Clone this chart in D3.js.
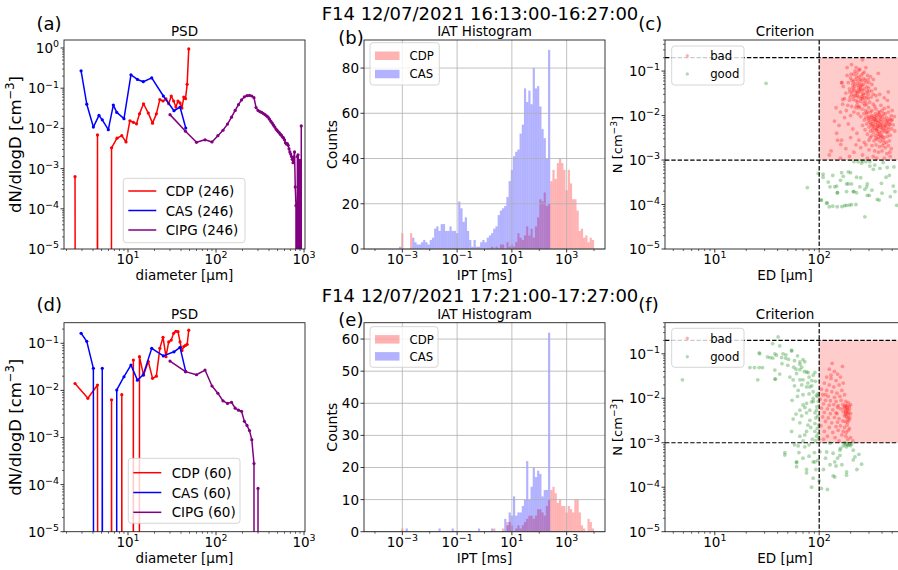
<!DOCTYPE html>
<html><head><meta charset="utf-8">
<script src="https://cdn.jsdelivr.net/npm/d3@7"></script>
<style>body{margin:0;background:#fff}svg{display:block}text{font-family:"DejaVu Sans",sans-serif;fill:#000}</style>
</head><body><svg id="fig" width="898" height="570"></svg>
<script>
// ================= DATA =================
const suptitles = ["F14 12/07/2021 16:13:00-16:27:00", "F14 12/07/2021 17:21:00-17:27:00"];
const panelLetters = [["(a)","(b)","(c)"],["(d)","(e)","(f)"]];

// PSD
const cdpDiam = [2.5,3.5,4.5,5.5,6.5,7.5,8.5,9.5,10.5,11.5,12.5,13.5,15,17,19,21,23,25,27,29,31,33,35,37,39,41,43,45,47,49];
const cdpPsdA = [0.00063,0,0.0069,0,0.0033,0.0057,0.0066,0.0046,0.0155,0.0142,0.013,0.023,0.041,0.024,0.0135,0.023,0.052,0.048,0.054,0.041,0.064,0.048,0.034,0.048,0.043,0.032,0.06,0.055,0.125,0.95];
const cdpPsdD = [0.014,0.0068,0.013,0,0.0063,0,0.0081,0,0,0.044,0,0.052,0.021,0.041,0.018,0.02,0.078,0.134,0.052,0.107,0.117,0.163,0.18,0.176,0.107,0.07,0.085,0.09,0.095,0.19];
const casDiam = [2.93,3.4,4.04,4.68,5.1,5.97,6.81,7.45,9.0,10.8,12.8,14.9,18.6,25.2,33.3,39,45.3];
const casPsdA = [0.27,0.04,0.0108,0.021,0.0163,0.0093,0.038,0.025,0.0175,0.215,0.165,0.145,0.18,0.064,0.0275,0.034,0.0102];
const casPsdD = [0.163,0.11,0.0294,0,0.0294,0,0,0.0102,0.0195,0.0345,0.0165,0.0215,0.078,0.054,0.066,0.082,0.025];
const cipDiam = [30,45,60,75,90,105,120,135,150,165,180,195,210,225,240,255,270,285,300,315,330,345,360,375,390,405,420,435,450,465,480,495,510,525,540,555,570,585,600,615,630,645,660,675,690,705,720,735,750,765,780,795,810,825,840,855,870,885,900,915,930,945];
const cipPsdA = [0.022,0.0085,0.0045,0.0052,0.0046,
  0.0066,0.009,0.0128,0.019,0.028,0.039,0.051,0.061,0.065,
  0.066,0.064,0.058,0.033,0.028,0.026,0.025,0.0235,0.022,
  0.0205,0.019,0.017,0.015,0.0135,0.012,0.0108,0.0096,0.0089,
  0.0082,0.0077,0.0071,0.0067,0.0061,0.0058,0.0052,0.0044,0.0041,
  0.0042,0.0038,0.0031,0.0026,0.0023,0.002,0.0017,0.0014,0.0019,
  0.0026,0.00035,0.00012,0,0.002,0.0022,0.0013,0,0.0016,
  0,0.0115,0];
const cipPsdD = [0.042,0.025,0.0215,0.027,0.0124,
  0.0087,0.006,0.0053,0.0056,0.0042,0.0038,0.0036,0.0022,0.0018,
  0.0014,0.0009,0.00028,0,0.000083,0,0,0,0,
  0,0,0,0,0,0,0,0,0, 0,0,0,0,0,0,0,0,0, 0,0,0,0,0,0,0,0,0, 0,0,0,0,0,0,0,0,0, 0,0,0];
const psdLegendA = ["CDP (246)","CAS (246)","CIPG (246)"];
const psdLegendD = ["CDP (60)","CAS (60)","CIPG (60)"];

// IAT histograms: 100 log bins from 1e-4 to 1e4 ms
const iatBinLog = [-4, 4, 100];
const cdpIatB = [0,0,0,0,0,0,0,0,0,0, 0,0,7,0,0,0,7,0,0,0, 0,0,0,0,0,0,0,0,0,0, 0,0,0,0,0,0,0,0,0,0, 0,0,0,0,0,0,0,0,0,0,
  0,0,0,1,0,1,0,2,2,0, 3,1,2,1,3,7,5,4,6,10, 6,9,5,10,14,22,21,25,19,20, 30,35,31,38,40,38,35,26,35,29, 22,22,17,8,9,5,6,3,5,4];
const casIatB = [0,0,0,0,0,0,0,0,0,0, 0,1,0,0,0,0,0,5,3,2, 2,3,4,3,2,4,5,9,10,8, 11,11,8,8,10,8,8,7,21,18, 12,14,8,4,1,4,1,1,3,4,
  3,5,6,7,9,10,15,17,18,19, 23,30,35,41,43,44,51,55,71,65, 70,64,80,71,72,63,53,49,40,88, 0,0,0,0,0,0,0,0,0,0, 0,0,0,0,0,0,0,0,0,0];
const cdpIatE = [0,0,0,0,0,0,0,0,0,0, 0,0,1,0,0,0,0,0,0,0, 0,0,0,0,0,0,0,0,0,0, 0,0,0,0,0,0,0,0,0,0, 0,0,0,0,0,0,0,0,0,0,
  0,0,0,0,1,0,0,0,1,0, 3,3,2,0,1,2,1,2,3,4, 5,5,4,5,7,7,6,5,8,10, 13,14,12,9,10,8,8,6,8,7, 6,10,10,6,2,1,0,4,3,1];
const casIatE = [0,0,0,0,0,0,0,0,0,0, 0,0,0,0,1,0,0,0,0,0, 0,0,0,0,0,0,0,0,0,1, 0,0,0,0,0,1,0,0,0,0, 0,0,0,0,0,0,0,1,0,0,
  0,0,0,1,0,0,0,0,0,4, 2,6,5,11,5,6,6,8,10,22, 10,14,20,17,19,18,11,13,13,62, 0,0,0,0,0,0,0,0,0,0, 0,0,0,0,0,0,0,0,0,0];
const iatYTicksB = [0,20,40,60,80];
const iatYTicksE = [0,10,20,30,40,50,60];

// Criterion scatter: [ED (um), N (cm^-3)]
const critThreshN = [0.001, 0.2];
const critThreshED = 100;
const critBadC = [
 [185,0.12],[204,0.14],[245,0.11],[260,0.18],[230,0.09],[215,0.085],[270,0.095],[290,0.08],[310,0.075],[368,0.089],[200,0.07],[222,0.065],[240,0.072],[255,0.06],[275,0.062],[300,0.055],[190,0.055],[210,0.05],[235,0.048],[250,0.045],[265,0.05],[285,0.044],[320,0.05],[345,0.04],[170,0.045],[195,0.04],[215,0.038],[228,0.036],[245,0.034],[260,0.037],[280,0.032],[300,0.035],[330,0.03],[180,0.032],[205,0.03],[222,0.028],[238,0.026],[255,0.027],[272,0.025],[295,0.024],[315,0.026],[350,0.028],[380,0.03],[175,0.024],[195,0.022],[212,0.023],[232,0.02],[248,0.021],[265,0.019],[285,0.018],[305,0.02],[330,0.018],[360,0.022],[420,0.025],[168,0.018],[188,0.017],[205,0.016],[225,0.015],[242,0.016],[258,0.014],[278,0.013],[298,0.015],[340,0.016],[390,0.017],[450,0.022],[459,0.034],[182,0.013],[215,0.012],[236,0.011],[268,0.011],[290,0.012],[320,0.013],[160,0.012],[200,0.01],[250,0.0095],[165,0.055],[220,0.1],[280,0.12],[330,0.065],[185,0.08],[250,0.04],[235,0.06],[260,0.024],[295,0.03],[210,0.042],[270,0.04],[240,0.015],[225,0.032],
 [218,0.045],[242,0.052],[232,0.028],[262,0.031],[248,0.065],[226,0.022],[276,0.021],[208,0.035],[198,0.026],[286,0.026],
 [212,0.058],[228,0.075],[252,0.08],[268,0.068],[238,0.042],[256,0.048],[222,0.052],[244,0.038],[264,0.029],[234,0.033],[252,0.024],[288,0.036],[214,0.027],[230,0.017],[274,0.017],[196,0.034],[206,0.062],[282,0.056],[298,0.042],[318,0.036],[262,0.088],[240,0.105],[202,0.085],[226,0.12],[294,0.065],
 [280,0.009],[300,0.0095],[320,0.01],[345,0.011],[370,0.012],[400,0.013],[430,0.011],[460,0.012],[490,0.01],[270,0.008],[295,0.0078],[315,0.0082],[335,0.0085],[355,0.009],[380,0.0088],[405,0.0095],[440,0.009],[475,0.0085],[500,0.008],[285,0.0065],[305,0.007],[325,0.0066],[348,0.0072],[365,0.0068],[390,0.0072],[415,0.007],[445,0.0068],[480,0.0065],[260,0.006],[300,0.0055],[320,0.0058],[340,0.0052],[362,0.0058],[385,0.0055],[410,0.0058],[435,0.0052],[465,0.0056],[495,0.005],[275,0.0048],[310,0.0045],[330,0.0042],[355,0.0046],[375,0.0044],[398,0.0042],[425,0.0046],[455,0.0042],[290,0.0038],[318,0.0035],[345,0.0036],[368,0.0033],[392,0.0035],[420,0.0032],[450,0.0034],[480,0.0036],[300,0.0028],[335,0.0027],[360,0.0029],[385,0.0026],[410,0.0028],[440,0.0025],[470,0.0027],[280,0.0022],[320,0.0021],[350,0.0022],[378,0.002],[405,0.0021],[430,0.0019],[460,0.0021],[490,0.0018],[300,0.0017],[340,0.0016],[370,0.0015],[400,0.0016],[445,0.0014],[475,0.0015],[380,0.012],[420,0.0145],[350,0.014],[310,0.012],[460,0.0155],[500,0.013],[395,0.0062],[325,0.0049],[365,0.0039],[435,0.0062],[455,0.0078],[345,0.0062],[285,0.011],[375,0.0105],
 [352,0.0078],[372,0.0075],[338,0.0095],[392,0.0082],[362,0.0052],[408,0.0048],[328,0.0075],[382,0.0063],[422,0.0082],[312,0.0064],
 [358,0.0102],[388,0.0098],[412,0.011],[342,0.0082],[368,0.0058],[398,0.0052],[428,0.0058],[352,0.0048],[378,0.0038],[402,0.0034],[332,0.0058],[318,0.0092],[298,0.0088],[448,0.0075],[468,0.0065],[488,0.0078],[462,0.0048],[438,0.0042],[388,0.0031],[348,0.0031],[308,0.0032],[418,0.0024],[512,0.0062],[525,0.0095],[530,0.0045],
 [125,0.0013],[147,0.004],[150,0.0028],[164,0.0028],[161,0.00225],[168,0.023],[164,0.055],[140,0.0075],[155,0.006],[175,0.009],[190,0.0065],[210,0.005],[230,0.004],[200,0.0032],[240,0.0028],[180,0.0018],[215,0.0015],[260,0.0013],[290,0.0011],[330,0.0012],[160,0.0011],[250,0.0019],[130,0.0016],[195,0.0012],[355,0.0011],[420,0.0011],[480,0.0012],[270,0.0025],[225,0.0022],[145,0.015]];
const critGoodC = [
 [31,0.053],[77,0.00024],[98,0.0005],[109,0.00048],[105,0.000126],[118,0.000106],[109,0.00041],[122,0.00032],[127,0.00025],[141,0.00025],[164,0.00052],[170,0.00043],[190,0.00054],[200,0.00052],[215,0.00092],[236,0.00092],[228,0.00041],[204,0.00029],[190,0.00029],[149,0.000184],[183,0.000195],[215,0.000195],[149,0.000089],[165,0.00009],[183,0.000096],[204,0.000099],[225,0.0001],[245,0.00025],[274,0.00022],[289,0.00016],[274,0.000053],[306,0.00073],[341,0.00077],[306,0.00092],[382,0.00065],[448,0.00068],[410,0.00088],[360,0.00013],[437,0.00041],[512,0.00026],[553,0.000096],[289,0.00029],[147,0.00026],[150,0.000184],[183,0.00029],[212,0.000195],[228,0.000184],[285,0.00025],[302,0.00016],[376,0.000126],[532,0.000195],[104,0.000126],[119,0.00011],[125,0.000089],[135,0.000092],[175,0.000094],[195,0.000097],[260,0.00095],[280,0.00092],[255,0.00085],[330,0.00062],[395,0.0003],[470,0.00045],[520,0.0007],[160,0.00035],[135,0.00045],[250,0.0004],[320,0.00021],[400,0.00018],[480,0.00015]];
const critBadF = [
 [133,0.061],[167,0.052],[125,0.045],[140,0.04],[150,0.035],[118,0.03],[130,0.028],[145,0.025],[160,0.03],[112,0.022],[125,0.02],[138,0.018],[155,0.02],[170,0.022],[105,0.016],[118,0.015],[132,0.014],[148,0.013],[165,0.015],[108,0.012],[122,0.011],[140,0.0105],[158,0.011],[175,0.012],[102,0.0095],[115,0.009],[128,0.0088],[145,0.0085],[162,0.009],[180,0.0085],[190,0.008],[110,0.0075],[125,0.007],[138,0.0072],[152,0.0068],[168,0.0072],[178,0.007],[185,0.0068],[195,0.0066],[200,0.0072],[105,0.006],[120,0.0058],[135,0.0055],[160,0.0058],[172,0.006],[182,0.0058],[188,0.0055],[196,0.0057],[112,0.0048],[128,0.0045],[145,0.0047],[170,0.005],[180,0.0048],[186,0.0046],[192,0.0049],[200,0.0045],[108,0.0038],[122,0.0036],[140,0.0037],[155,0.0035],[175,0.004],[183,0.0038],[190,0.0041],[197,0.0036],[115,0.003],[132,0.0028],[150,0.0029],[168,0.0031],[178,0.003],[187,0.0029],[193,0.0032],[104,0.0024],[125,0.0022],[145,0.0023],[160,0.0024],[175,0.0022],[185,0.0025],[195,0.0021],[112,0.0018],[135,0.0017],[152,0.0019],[170,0.0018],[182,0.0017],[190,0.0019],[120,0.0014],[142,0.0013],[165,0.0015],[180,0.0014],[200,0.0013],[110,0.0012],[155,0.0011],[188,0.0012],[210,0.0011],[148,0.0045],[185,0.0062],[180,0.0052],[178,0.0043],[188,0.0035],[176,0.0065],[130,0.033],[115,0.012],[150,0.0062]];
const critGoodF = [
 [4.9,0.026],[40.4,0.24],[35.8,0.17],[41.9,0.15],[26.6,0.105],[27,0.1],[37.6,0.1],[39,0.093],[43.6,0.082],[47.6,0.08],[50.8,0.075],[54.4,0.12],[54.4,0.115],[70,0.074],[72.8,0.066],[65.3,0.058],[65.3,0.066],
 [21.7,0.049],[24,0.049],[26.6,0.049],[28.6,0.049],[37.6,0.043],[41.9,0.035],[52.4,0.03],[60.7,0.036],[25.8,0.026],[38.2,0.027],[37.6,0.027],[65.3,0.026],[78.4,0.038],[91,0.038],[75.7,0.039],[87.6,0.033],[56.3,0.026],[70,0.026],[65.3,0.044],
 [75.7,0.018],[62.9,0.015],[87.6,0.014],[94.3,0.0117],[97.8,0.0128],[81.4,0.018],[84.6,0.0083],[70,0.0071],[81.4,0.0054],[75.7,0.0047],[91,0.0047],[87.6,0.0099],[75.7,0.0077],[65.3,0.0054],[94.3,0.0054],[81.4,0.0032],[91,0.0027],[56.3,0.0034],[65.3,0.0028],[72.8,0.0015],[91,0.0018],[54.4,0.0018],[65.3,0.0014],[75.7,0.0018],[94.3,0.0014],
 [62.9,0.00085],[72.8,0.00081],[46.9,0.0006],[46.9,0.00053],[60.7,0.00037],[60.7,0.00036],[60.7,0.00029],[75.7,0.00025],[75.7,0.00021],[87.6,0.00016],[87.6,0.00037],[84.6,0.0001],[91,0.00037],
 [101.6,0.00062],[105,0.000094],[120,0.000089],[127,0.00032],[136,0.00058],[141,0.00037],[158,0.00068],[176,0.001],[212,0.00068],[220,0.00048],[183,0.000187],[141,0.00017],[212,0.00041],[255,0.00033],[136,0.00018],[145,0.0003],[158,0.00052],[183,0.00081],[190,0.00088],[195,0.00092],[200,0.00086],[186,0.00095],[178,0.00091],[118,0.00062],[127,0.00098],[183,0.00022],
 [96,0.011],[98,0.0085],[95,0.0065],[97,0.004],[93,0.0036],[99,0.0025],[96,0.0021],[98,0.0016],[92,0.0011],[99,0.0012],
 [32,0.085],[34,0.082],[36,0.08],[45,0.1],[48,0.095],[58,0.07],[62,0.09],[44,0.06],[50,0.055],[57,0.05],[60,0.045],[68,0.05],[72,0.04],[80,0.03],[85,0.025],[78,0.022],[68,0.02],[58,0.019],[85,0.019],[92,0.024],[55,0.009],[62,0.011],[70,0.012],[80,0.0125],[88,0.0085],[73,0.0062],[60,0.0044],[68,0.004],[78,0.0025],[83,0.0022],[86,0.0012],[70,0.0011],[80,0.0009],[58,0.0009],[64,0.0006],[70,0.00045],[80,0.0005],[90,0.0006],[97,0.0004],[93,0.00025],[100,0.00014],[110,0.00025],[115,0.00045],[150,0.00045],[165,0.00032],[230,0.00025],[240,0.00055],[205,0.00095],[170,0.00085],[160,0.00075]];

// ================= LAYOUT =================
const ROWS = [{top:40, bottom:249}, {top:322.7, bottom:531.7}];
const COL = {psd:[64,305], iat:[364,605], crit:[665,905]};
const AXC = '#222';
const TICKFS = 13.5;
const LABFS = 13.5;
const svg = d3.select('#fig');
const defs = svg.append('defs');

function richText(parent, x, y, parts, size, anchor, rotate) {
  const t = parent.append('text').attr('x', x).attr('y', y).attr('font-size', size).attr('text-anchor', anchor || 'start');
  if (rotate != null) t.attr('transform', `rotate(${rotate},${x},${y})`);
  let raised = false;
  parts.forEach(p => {
    const s = t.append('tspan');
    if (typeof p === 'string') { if (raised) { s.attr('dy', size * 0.42); raised = false; } s.text(p); }
    else { s.attr('dy', -size * 0.42).attr('font-size', size * 0.7).text(p.sup); raised = true; }
  });
  return t;
}
const expStr = e => e < 0 ? '\u2212' + (-e) : String(e);
function logMinor(scale) {
  const [a, b] = scale.domain(); const out = [];
  for (let e = Math.floor(Math.log10(a)); e <= Math.ceil(Math.log10(b)); e++)
    for (let k = 2; k <= 9; k++) { const v = k * Math.pow(10, e); if (v >= a && v <= b) out.push(v); }
  return out;
}
function frame(g, L, R, top, bottom) {
  g.append('rect').attr('x', L).attr('y', top).attr('width', R - L).attr('height', bottom - top)
    .attr('fill', 'none').attr('stroke', AXC).attr('stroke-width', 0.9);
}
function xTick(g, x, bottom, len) { g.append('line').attr('x1', x).attr('x2', x).attr('y1', bottom).attr('y2', bottom + len).attr('stroke', AXC).attr('stroke-width', len > 2.5 ? 0.9 : 0.7); }
function yTick(g, y, L, len) { g.append('line').attr('x1', L - len).attr('x2', L).attr('y1', y).attr('y2', y).attr('stroke', AXC).attr('stroke-width', len > 2.5 ? 0.9 : 0.7); }
function clip(id, L, R, top, bottom) {
  defs.append('clipPath').attr('id', id).append('rect').attr('x', L).attr('y', top).attr('width', R - L).attr('height', bottom - top);
  return `url(#${id})`;
}
function legendBox(g, x, y, w, h) {
  g.append('rect').attr('x', x).attr('y', y).attr('width', w).attr('height', h).attr('rx', 3)
    .attr('fill', '#fff').attr('fill-opacity', 0.8).attr('stroke', '#ccc').attr('stroke-width', 0.8);
}

// ================= PSD PANEL =================
function psdPanel(row, cdpY, casY, cipY, yTop, yExps, labels, leg) {
  const {top, bottom} = ROWS[row]; const [L, R] = COL.psd;
  const xs = d3.scaleLog().domain([Math.pow(10, 0.2727), Math.pow(10, 3.011)]).range([L, R]);
  const ys = d3.scaleLog().domain([1e-5, yTop]).range([bottom, top]);
  const g = svg.append('g');
  const plot = g.append('g').attr('clip-path', clip('cpsd' + row, L, R, top, bottom));
  const series = [[cdpDiam, cdpY, 'red'], [casDiam, casY, 'blue'], [cipDiam, cipY, 'purple']];
  const line = d3.line().x(d => xs(d.x)).y(d => d.y > 0 ? ys(d.y) : bottom + 8000);
  series.forEach(([xv, yv, col]) => {
    const pts = xv.map((x, i) => ({x, y: yv[i]}));
    plot.append('path').attr('d', line(pts)).attr('fill', 'none').attr('stroke', col).attr('stroke-width', 1.5).attr('stroke-linejoin', 'round');
    plot.selectAll(null).data(pts.filter(d => d.y > 0)).enter().append('circle')
      .attr('cx', d => xs(d.x)).attr('cy', d => ys(d.y)).attr('r', 1.6).attr('fill', col);
  });
  frame(g, L, R, top, bottom);
  [1, 2, 3].forEach(e => { const x = xs(Math.pow(10, e)); xTick(g, x, bottom, 3.5); richText(g, x, bottom + 15, ['10', {sup: expStr(e)}], TICKFS, 'middle'); });
  logMinor(xs).forEach(v => xTick(g, xs(v), bottom, 2));
  yExps.forEach(e => { const y = ys(Math.pow(10, e)); yTick(g, y, L, 3.5); richText(g, L - 5, y + 5, ['10', {sup: expStr(e)}], TICKFS, 'end'); });
  logMinor(ys).forEach(v => yTick(g, ys(v), L, 2));
  g.append('text').attr('x', (L + R) / 2).attr('y', top - 4).attr('text-anchor', 'middle').attr('font-size', 13.5).text('PSD');
  g.append('text').attr('x', (L + R) / 2).attr('y', bottom + 31).attr('text-anchor', 'middle').attr('font-size', LABFS).text('diameter [\u00b5m]');
  richText(g, 21, (top + bottom) / 2, ['dN/dlogD [cm', {sup: '\u22123'}, ']'], 16.5, 'middle', -90);
  // legend
  const lg = g.append('g');
  legendBox(lg, leg.x, leg.y, leg.w, leg.h);
  ['red', 'blue', 'purple'].forEach((c, i) => {
    const yy = leg.y + leg.first + i * leg.step;
    lg.append('line').attr('x1', leg.x + 5).attr('x2', leg.x + 33).attr('y1', yy).attr('y2', yy).attr('stroke', c).attr('stroke-width', 1.5);
    lg.append('text').attr('x', leg.x + leg.tx).attr('y', yy + 5).attr('font-size', 13.5).text(labels[i]);
  });
}

// ================= IAT PANEL =================
function iatPanel(row, cdpC, casC, yMax, yTicks, leg) {
  const {top, bottom} = ROWS[row]; const [L, R] = COL.iat;
  const xs = d3.scaleLog().domain([Math.pow(10, -4.4), Math.pow(10, 4.4)]).range([L, R]);
  const ys = d3.scaleLinear().domain([0, yMax]).range([bottom, top]);
  const g = svg.append('g');
  const [lo, hi, n] = iatBinLog; const w = (hi - lo) / n;
  const bins = d3.range(n).map(i => ({x0: Math.pow(10, lo + i * w), x1: Math.pow(10, lo + (i + 1) * w)}));
  [[cdpC, 'red'], [casC, 'blue']].forEach(([cnt, col]) => {
    g.append('g').selectAll('rect').data(bins.map((b, i) => ({...b, c: cnt[i]})).filter(d => d.c > 0)).enter().append('rect')
      .attr('x', d => xs(d.x0)).attr('width', d => xs(d.x1) - xs(d.x0))
      .attr('y', d => ys(d.c)).attr('height', d => ys(0) - ys(d.c))
      .attr('fill', col).attr('fill-opacity', 0.3);
  });
  const majors = [-3, -1, 1, 3];
  majors.forEach(e => { const x = xs(Math.pow(10, e)); g.append('line').attr('x1', x).attr('x2', x).attr('y1', top).attr('y2', bottom).attr('stroke', '#b0b0b0').attr('stroke-width', 0.8); });
  yTicks.forEach(t => { const y = ys(t); g.append('line').attr('x1', L).attr('x2', R).attr('y1', y).attr('y2', y).attr('stroke', '#b0b0b0').attr('stroke-width', 0.8); });
  frame(g, L, R, top, bottom);
  majors.forEach(e => { const x = xs(Math.pow(10, e)); xTick(g, x, bottom, 3.5); richText(g, x, bottom + 15, ['10', {sup: expStr(e)}], TICKFS, 'middle'); });
  [-4, -2, 0, 2, 4].forEach(e => xTick(g, xs(Math.pow(10, e)), bottom, 2));
  yTicks.forEach(t => { const y = ys(t); yTick(g, y, L, 3.5); g.append('text').attr('x', L - 5).attr('y', y + 5).attr('text-anchor', 'end').attr('font-size', TICKFS).text(t); });
  g.append('text').attr('x', (L + R) / 2).attr('y', top - 4).attr('text-anchor', 'middle').attr('font-size', 13.5).text('IAT Histogram');
  g.append('text').attr('x', (L + R) / 2).attr('y', bottom + 31).attr('text-anchor', 'middle').attr('font-size', LABFS).text('IPT [ms]');
  g.append('text').attr('x', 337).attr('y', (top + bottom) / 2).attr('text-anchor', 'middle').attr('font-size', 14)
    .attr('transform', `rotate(-90,337,${(top + bottom) / 2})`).text('Counts');
  const lg = g.append('g');
  legendBox(lg, leg.x, leg.y, leg.w, leg.h);
  [['red', 'CDP'], ['blue', 'CAS']].forEach(([c, t], i) => {
    const yy = leg.y + leg.first + i * leg.step;
    lg.append('rect').attr('x', leg.x + 5).attr('y', yy - 4.2).attr('width', 24.5).attr('height', 8.5).attr('fill', c).attr('fill-opacity', 0.3);
    lg.append('text').attr('x', leg.x + 39.5).attr('y', yy + 4.3).attr('font-size', 11.7).text(t);
  });
}

// ================= CRITERION PANEL =================
function critPanel(row, bad, good, leg) {
  const {top, bottom} = ROWS[row]; const [L, R] = COL.crit;
  const xs = d3.scaleLog().domain([Math.pow(10, 0.523), Math.pow(10, 2.822)]).range([L, R]);
  const ys = d3.scaleLog().domain([1e-5, 0.5]).range([bottom, top]);
  const g = svg.append('g');
  const plot = g.append('g').attr('clip-path', clip('ccrit' + row, L, R, top, bottom));
  plot.append('rect').attr('x', xs(critThreshED)).attr('width', R - xs(critThreshED))
    .attr('y', ys(critThreshN[1])).attr('height', ys(critThreshN[0]) - ys(critThreshN[1]))
    .attr('fill', 'red').attr('fill-opacity', 0.2);
  [[bad, 'red'], [good, 'green']].forEach(([pts, col]) => {
    plot.append('g').selectAll('circle').data(pts).enter().append('circle')
      .attr('cx', d => xs(d[0])).attr('cy', d => ys(d[1])).attr('r', 1.9)
      .attr('fill', col).attr('fill-opacity', 0.3);
  });
  critThreshN.forEach(v => plot.append('line').attr('x1', L).attr('x2', R).attr('y1', ys(v)).attr('y2', ys(v))
    .attr('stroke', '#000').attr('stroke-width', 1.2).attr('stroke-dasharray', '4.4,1.9'));
  plot.append('line').attr('x1', xs(critThreshED)).attr('x2', xs(critThreshED)).attr('y1', top).attr('y2', bottom)
    .attr('stroke', '#000').attr('stroke-width', 1.2).attr('stroke-dasharray', '4.4,1.9');
  frame(g, L, R, top, bottom);
  [1, 2].forEach(e => { const x = xs(Math.pow(10, e)); xTick(g, x, bottom, 3.5); richText(g, x, bottom + 15, ['10', {sup: expStr(e)}], TICKFS, 'middle'); });
  logMinor(xs).forEach(v => xTick(g, xs(v), bottom, 2));
  [-5, -4, -3, -2, -1].forEach(e => { const y = ys(Math.pow(10, e)); yTick(g, y, L, 3.5); richText(g, L - 5, y + 5, ['10', {sup: expStr(e)}], TICKFS, 'end'); });
  logMinor(ys).forEach(v => yTick(g, ys(v), L, 2));
  g.append('text').attr('x', (L + R) / 2).attr('y', top - 4).attr('text-anchor', 'middle').attr('font-size', 13.5).text('Criterion');
  g.append('text').attr('x', (L + R) / 2).attr('y', bottom + 31).attr('text-anchor', 'middle').attr('font-size', LABFS).text('ED [\u00b5m]');
  richText(g, 622, (top + bottom) / 2, ['N [cm', {sup: '\u22123'}, ']'], 13, 'middle', -90);
  const lg = g.append('g');
  legendBox(lg, leg.x, leg.y, leg.w, leg.h);
  [['red', 'bad'], ['green', 'good']].forEach(([c, t], i) => {
    const yy = leg.y + leg.first + i * leg.step;
    lg.append('circle').attr('cx', leg.x + 15.6).attr('cy', yy).attr('r', 1.7).attr('fill', c).attr('fill-opacity', 0.3);
    lg.append('text').attr('x', leg.x + 38.5).attr('y', yy + 4.3).attr('font-size', 11.7).text(t);
  });
}

// ================= BUILD =================
psdPanel(0, cdpPsdA, casPsdA, cipPsdA, Math.pow(10, 0.199), [0, -1, -2, -3, -4, -5], psdLegendA,
  {x: 123.3, y: 178.3, w: 121.7, h: 64.4, first: 12.7, step: 19.5, tx: 42.4});
psdPanel(1, cdpPsdD, casPsdD, cipPsdD, Math.pow(10, -0.563), [-1, -2, -3, -4, -5], psdLegendD,
  {x: 128.3, y: 458.3, w: 111.7, h: 65, first: 14.4, step: 19.8, tx: 43.4});
iatPanel(0, cdpIatB, casIatB, 92.4, iatYTicksB, {x: 370, y: 42.7, w: 69.3, h: 42.3, first: 13, step: 18.3});
iatPanel(1, cdpIatE, casIatE, 65.1, iatYTicksE, {x: 370, y: 326.7, w: 68, h: 40.6, first: 12.6, step: 17});
critPanel(0, critBadC, critGoodC, {x: 671.7, y: 46, w: 72.3, h: 39, first: 9.7, step: 18.3});
critPanel(1, critBadF, critGoodF, {x: 671.7, y: 328.3, w: 72.3, h: 39, first: 10, step: 18.4});

// titles
svg.append('text').attr('x', 480).attr('y', 20).attr('text-anchor', 'middle').attr('font-size', 18).text(suptitles[0]);
svg.append('text').attr('x', 480).attr('y', 301.7).attr('text-anchor', 'middle').attr('font-size', 18).text(suptitles[1]);
const letterPos = [[[36.5, 30], [338.3, 43.5], [638.3, 29.5]], [[36.5, 311], [338.3, 325.5], [638.3, 311]]];
letterPos.forEach((r, ri) => r.forEach(([x, y], ci) => svg.append('text').attr('x', x).attr('y', y).attr('font-size', 18).text(panelLetters[ri][ci])));
</script></body></html>
